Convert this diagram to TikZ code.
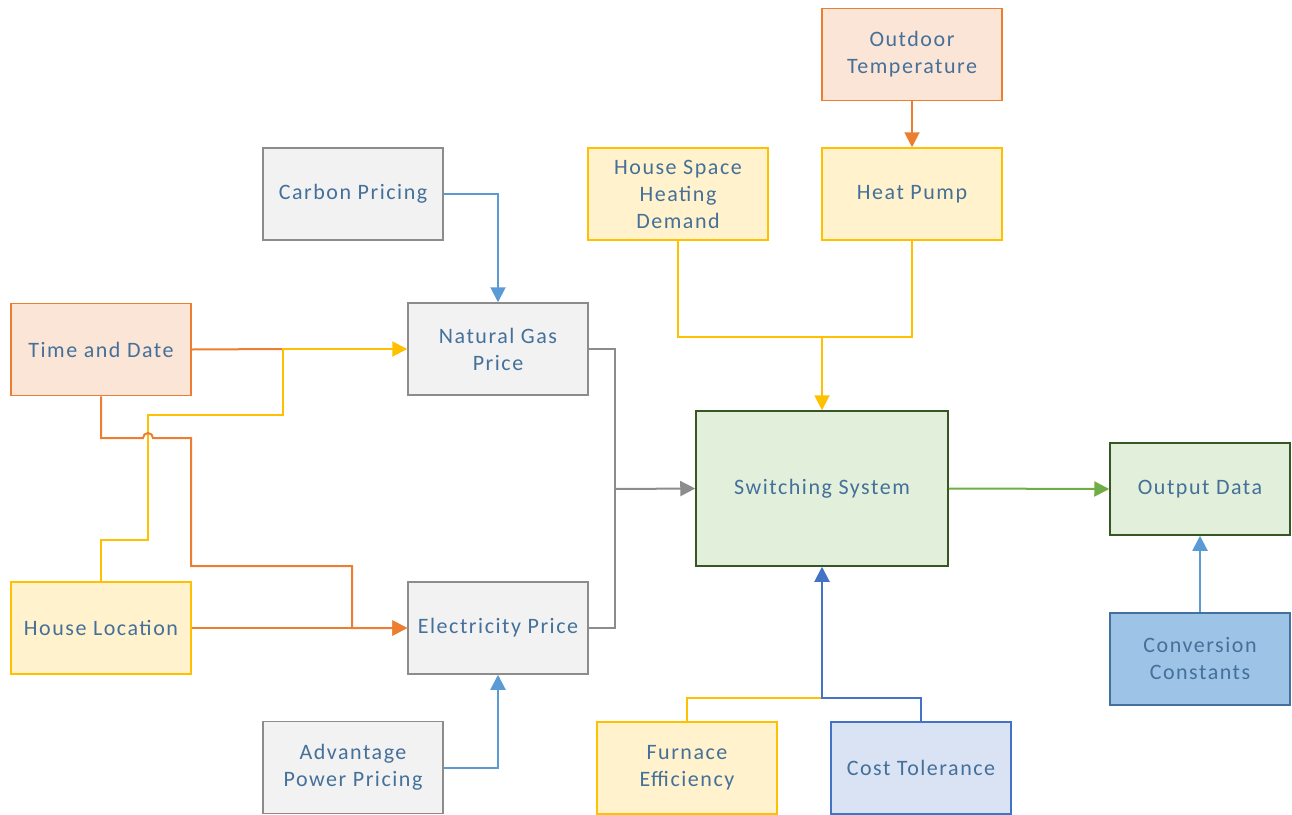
\documentclass[tikz,border=0pt]{standalone}
\usepackage{fontspec}
\setmainfont{Carlito}[LetterSpace=7]
\usetikzlibrary{arrows.meta}
\definecolor{txt}{HTML}{44709A}
\definecolor{orfill}{HTML}{FBE5D6}
\definecolor{ordraw}{HTML}{ED7D31}
\definecolor{yefill}{HTML}{FFF2CC}
\definecolor{yedraw}{HTML}{FFC000}
\definecolor{grfill}{HTML}{F2F2F2}
\definecolor{grdraw}{HTML}{8C8C8C}
\definecolor{gnfill}{HTML}{E2EFDA}
\definecolor{gndraw}{HTML}{375623}
\definecolor{gnline}{HTML}{70AD47}
\definecolor{bline}{HTML}{5B9BD5}
\definecolor{dbline}{HTML}{4472C4}
\definecolor{blfill}{HTML}{DAE3F3}
\definecolor{ccfill}{HTML}{9DC3E6}
\definecolor{ccdraw}{HTML}{41719C}
\begin{document}
\begin{tikzpicture}[x=1pt,y=-1pt,
  font=\fontsize{22}{27}\selectfont,
  box/.style={draw, line width=1.5pt, inner sep=0pt, align=center, text=txt,
    minimum width=180pt, minimum height=92pt},
  orbox/.style={box, fill=orfill, draw=ordraw},
  yebox/.style={box, fill=yefill, draw=yedraw},
  grbox/.style={box, fill=grfill, draw=grdraw},
  gnbox/.style={box, fill=gnfill, draw=gndraw},
  blbox/.style={box, fill=blfill, draw=dbline},
  ccbox/.style={box, fill=ccfill, draw=ccdraw},
  conn/.style={line width=2pt},
  arr/.style={conn, -{Triangle[length=15pt,width=15pt]}},
]
\useasboundingbox (0,0) rectangle (1292,814);

\node[orbox] (ot) at (912,54.5) {Outdoor\\Temperature};
\node[yebox] (hs) at (678,194) {House Space\\Heating\\Demand};
\node[yebox] (hp) at (912,194) {Heat Pump};
\node[grbox] (cp) at (353,194) {Carbon Pricing};
\node[grbox] (ng) at (498,349) {Natural Gas\\Price};
\node[orbox] (td) at (101,349.5) {Time and Date};
\node[yebox] (hl) at (101,628) {House Location};
\node[grbox] (ep) at (498,628) {Electricity Price};
\node[grbox] (ap) at (353,767.5) {Advantage\\Power Pricing};
\node[gnbox, minimum width=252pt, minimum height=155pt] (ss) at (822,488.5) {Switching System};
\node[gnbox] (od) at (1200,489) {Output Data};
\node[ccbox] (cc) at (1200,659) {Conversion\\Constants};
\node[yebox] (fe) at (687,768) {Furnace\\Efficiency};
\node[blbox] (ct) at (921,768) {Cost Tolerance};

\coordinate (tdj) at (283,349);
\coordinate (ssin) at (615,489);
\coordinate (hsj) at (822,337);
\coordinate (ctj) at (822,698);

% Outdoor -> Heat Pump
\draw[arr, ordraw] (ot.south) -- (hp.north);
% Carbon -> Natural gas
\draw[arr, bline] (cp.east) -| (ng.north);
% Advantage -> Electricity
\draw[arr, bline] (ap.east) -| (ep.south);
% Time and Date -> Natural gas (orange part)
\draw[conn, ordraw] (td.east) -- (tdj);
% House Location -> Natural gas (yellow)
\draw[arr, yedraw] (hl.north) -- (101,540) -- (148,540) -- (148,415) -- (283,415) -- (tdj) -- (ng.west);
% Time and Date -> Electricity (with jump)
\draw[arr, ordraw] (td.south) -- (101,438) -- (143,438) arc (180:360:5) -- (191,438) -- (191,566) -- (352,566) -- (352,628) -- (ep.west);
% House Location -> Electricity
\draw[arr, ordraw] (hl.east) -- (ep.west);
% Prices -> Switching
\draw[conn, grdraw] (ng.east) -| (ssin);
\draw[conn, grdraw] (ep.east) -| (ssin);
\draw[arr, grdraw] (ssin) -- (ss.west);
% House space / heat pump -> switching
\draw[conn, yedraw] (hs.south) |- (hsj);
\draw[conn, yedraw] (hp.south) |- (hsj);
\draw[arr, yedraw] (hsj) -- (ss.north);
% Switching -> Output
\draw[arr, gnline] (ss.east) -- (od.west);
% Conversion -> Output
\draw[arr, bline] (cc.north) -- (od.south);
% Furnace / cost tolerance -> switching
\draw[conn, yedraw] (fe.north) |- (ctj);
\draw[arr, dbline] (ct.north) |- (ctj) -- (ss.south);
\end{tikzpicture}
\end{document}
